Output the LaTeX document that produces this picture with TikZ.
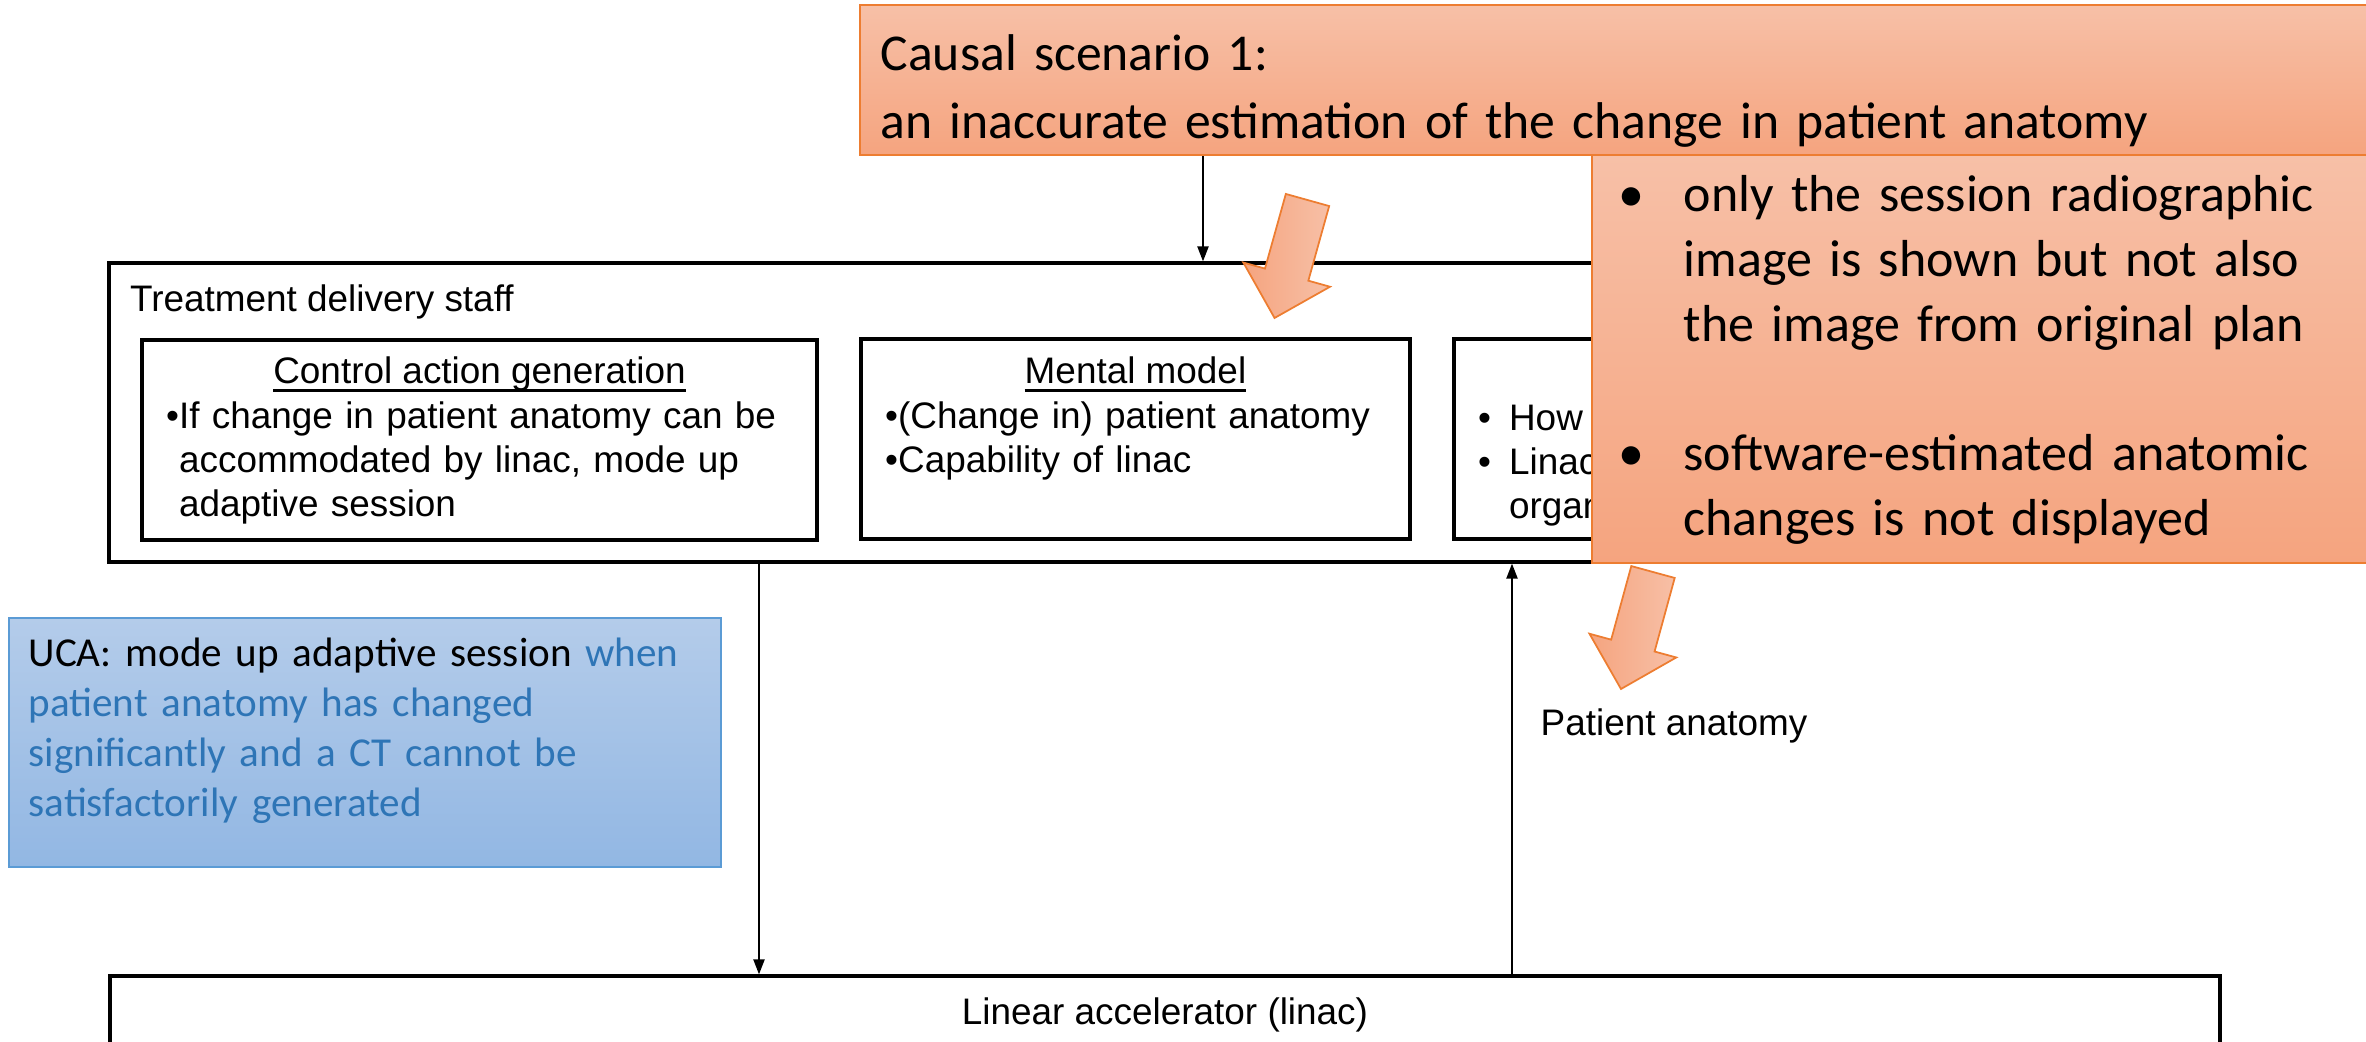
\documentclass[tikz,border=0pt]{standalone}
\usepackage{fontspec}
\setmainfont{Liberation Sans}
\newfontfamily\calfont{Carlito}
\usetikzlibrary{arrows.meta,positioning}

\definecolor{orgtop}{HTML}{F7C0A7}
\definecolor{orgbot}{HTML}{F5A47F}
\definecolor{orgline}{HTML}{ED7D31}
\definecolor{blutop}{HTML}{B4CCEA}
\definecolor{blubot}{HTML}{92B7E3}
\definecolor{bluline}{HTML}{5B9BD5}
\definecolor{blutext}{HTML}{2E75B6}

\newsavebox\hdbox
\newcommand{\bl}{\makebox[1.3mm][l]{\textbullet}}
\newcommand{\hdline}[1]{\sbox\hdbox{#1}\rlap{\rule[-2.3pt]{\wd\hdbox}{0.8pt}}\usebox\hdbox}
\newcommand{\blockarrow}[4]{% tail x, tail y, angle, length
  \begin{scope}[shift={(#1,#2)},rotate=#3]
    \path[blkarrow] (0,-0.225) -- ({#4-0.45},-0.225) -- ({#4-0.45},-0.45) -- (#4,0)
      -- ({#4-0.45},0.45) -- ({#4-0.45},0.225) -- (0,0.225) -- cycle;
  \end{scope}}

\begin{document}
\begin{tikzpicture}[>={Triangle[length=1.5mm,width=1.1mm]}]
        \tikzstyle{frame}=[draw,line width=0.9pt,inner sep=0]
        \tikzstyle{inbox}=[draw,line width=0.9pt,minimum height=2cm,inner sep=0]
        \tikzstyle{lbl}=[inner sep=0,font=\fontsize{10.5}{12.5}\selectfont]
        \tikzstyle{lst}=[lbl,align=left,anchor=base west]
        \tikzstyle{orgbox}=[draw=orgline,line width=0.6pt,top color=orgtop,bottom color=orgbot,inner sep=0]
        \tikzstyle{calib}=[inner sep=0,font=\calfont\fontsize{14.8}{18.4}\selectfont,align=left,anchor=base west]
        \tikzstyle{blkarrow}=[draw=orgline,line width=0.5pt,left color=orgbot,right color=orgtop]
        \tikzstyle{flow}=[->,line width=0.6pt]

        \useasboundingbox (0,0) rectangle (23.66,10.41);
        \clip (0,0) rectangle (23.66,10.41);

        % controller
        \node[frame,minimum width=21.11cm,minimum height=2.99cm] (staff) at (11.645,6.285) {};
        \node[lbl,anchor=base west] (stafflbl) at ([xshift=2.2mm,yshift=-5mm]staff.north west) {Treatment delivery staff};

        \node[inbox,minimum width=6.75cm] (ctrl) at (4.795,6.01) {};
        \node[inbox,minimum width=5.49cm] (mental) at (11.355,6.02) {};
        \node[inbox,minimum width=6.36cm] (fbinfo) at (17.72,6.02) {};

        \node[lbl,anchor=base] (ctrlhd) at ([yshift=-4.5mm]ctrl.north) {\hdline{Control action generation}};
        \node[lbl,anchor=base] (mentalhd) at ([yshift=-4.6mm]mental.north) {\hdline{Mental model}};

        \node[lst,text width=6.4cm] (ctrllst) at ([xshift=2.5mm,yshift=-9mm]ctrl.north west)
            {\bl If change in patient anatomy can be\\\hspace*{1.3mm}accommodated by linac, mode up\\\hspace*{1.3mm}adaptive session};
        \node[lst,text width=5cm] (mentallst) at ([xshift=2.5mm,yshift=-9.1mm]mental.north west)
            {\bl(Change in) patient anatomy\\\bl Capability of linac};
        \node[lst,text width=5cm] (fblst) at ([xshift=2.5mm,yshift=-9.35mm]fbinfo.north west)
            {\makebox[3.1mm][l]{\textbullet}How\\\makebox[3.1mm][l]{\textbullet}Linac\\\hspace*{3.1mm}organ};

        % controlled process
        \node[frame,minimum width=21.10cm,minimum height=0.78cm,font=\fontsize{10.5}{12.5}\selectfont] (linac) at (11.65,0.26) {Linear accelerator (linac)};

        % unsafe control action
        \node[draw=bluline,line width=0.6pt,top color=blutop,bottom color=blubot,minimum width=7.12cm,minimum height=2.49cm,inner sep=0] (uca) at (3.65,2.985) {};
        \node[anchor=base west,text width=6.9cm,align=left,inner sep=0,font=\calfont\fontsize{11.7}{14.2}\selectfont] (ucatxt) at ([xshift=2mm,yshift=-5mm]uca.north west)
            {UCA: mode up adaptive session \textcolor{blutext}{when}\\\textcolor{blutext}{patient anatomy has changed}\\\textcolor{blutext}{significantly and a CT cannot be}\\\textcolor{blutext}{satisfactorily generated}};

        % causal scenario
        \node[orgbox,minimum width=15.10cm,minimum height=1.50cm] (causal) at (16.15,9.61) {};
        \node[calib,text width=14.5cm,font=\calfont\fontsize{14.7}{19.2}\selectfont] (causaltxt) at ([xshift=2.1mm,yshift=-6.7mm]causal.north west)
            {Causal scenario 1:\\an inaccurate estimation of the change in patient anatomy};

        \coordinate (cx) at (12.03,0);
        \coordinate (dx) at (7.59,0);
        \coordinate (ux) at (15.12,0);
        \draw[flow] (causal.south -| cx) -- (staff.north -| cx);   % scenario -> staff
        \draw[flow] (staff.south -| dx) -- (linac.north -| dx);    % control action
        \draw[flow] (linac.north -| ux) -- (staff.south -| ux);    % feedback
        \node[lbl,anchor=west] (anat) at (15.40,3.15) {Patient anatomy};

        % display flaws
        \node[orgbox,minimum width=7.78cm,minimum height=4.08cm] (hmi) at (19.81,6.82) {};
        \node[calib,text width=7.3cm] (hmitxt) at ([xshift=2.7mm,yshift=-5.8mm]hmi.north west)
            {\makebox[6.5mm][l]{\textbullet}only the session radiographic\\\hspace*{6.5mm}image is shown but not also\\\hspace*{6.5mm}the image from original plan\\[18.4pt]\makebox[6.5mm][l]{\textbullet}software-estimated anatomic\\\hspace*{6.5mm}changes is not displayed};

        \blockarrow{13.075}{8.41}{254.4}{1.225}
        \blockarrow{16.53}{4.69}{254.7}{1.213}
\end{tikzpicture}
\end{document}
